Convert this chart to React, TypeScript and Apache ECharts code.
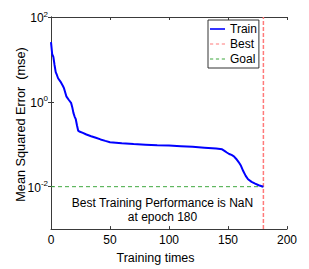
import React, { useEffect, useRef } from "react";
import * as echarts from "echarts";

const epochs = [0, 1, 2, 3, 4, 5, 6, 8, 10, 11, 13, 15, 17, 18, 19, 20, 21, 22, 23, 24, 27, 30, 34, 38, 42, 46, 50, 60, 70, 80, 90, 100, 110, 120, 130, 140, 145, 147, 149, 151, 153, 155, 157, 159, 161, 163, 165, 167, 170, 173, 176, 180];
const trainMse = [25.7, 13.3, 11.5, 7.4, 5.0, 4.3, 3.6, 3.0, 2.4, 2.1, 1.35, 1.12, 0.95, 0.75, 0.55, 0.45, 0.39, 0.28, 0.21, 0.2, 0.185, 0.17, 0.155, 0.142, 0.13, 0.12, 0.112, 0.105, 0.101, 0.098, 0.095, 0.093, 0.09, 0.087, 0.083, 0.079, 0.076, 0.07, 0.064, 0.059, 0.056, 0.052, 0.045, 0.038, 0.031, 0.023, 0.018, 0.015, 0.013, 0.0118, 0.0108, 0.01];
const bestEpoch = 180;
const goalValue = 0.01;
const yMin = 0.001;
const yMax = 100;
const xMin = 0;
const xMax = 200;
const xInterval = 50;
const yTickValues = [0.01, 1, 100];
const legendNames = ["Train", "Best", "Goal"];
const annotation = "Best Training Performance is NaN\nat epoch 180";
const xTitle = "Training times";
const yTitle = "Mean Squared Error  (mse)";

const FONT = "Liberation Sans, Arial, sans-serif";
const AXIS_COLOR = "#3a3a3a";
const TRAIN_COLOR = "#0000ff";
const BEST_COLOR = "#ff7a7a";
const GOAL_COLOR = "#3fa83f";

// legend icons: a 15x12 box (corner points keep the aspect), a solid bar or three dashes
const ICON_SOLID = "path://M0,0L0,0M15,12L15,12M0,5.2h15v1.6h-15z";
const ICON_DASH = "path://M0,0L0,0M15,12L15,12M0,5.4h3.2v1.2h-3.2zM5.9,5.4h3.2v1.2h-3.2zM11.8,5.4h3.2v1.2h-3.2z";

export default function App() {
  const ref = useRef<HTMLDivElement>(null);
  useEffect(() => {
    if (!ref.current) return;
    const chart = echarts.init(ref.current, undefined, { renderer: "svg" });
    const trainData = epochs.map((e, i) => [e, trainMse[i]]);
    const axisLineStyle = { show: true, lineStyle: { color: AXIS_COLOR, width: 1 } };
    const legendIcons = [ICON_SOLID, ICON_DASH, ICON_DASH];
    chart.setOption({
      animation: false,
      backgroundColor: "#ffffff",
      grid: { left: 51, top: 17, right: 22, bottom: 36, containLabel: false },
      legend: {
        data: legendNames.map((n, i) => ({ name: n, icon: legendIcons[i] })),
        orient: "vertical",
        left: 208,
        top: 20,
        backgroundColor: "#ffffff",
        borderColor: "#333333",
        borderWidth: 1,
        borderRadius: 0,
        padding: [3, 2, 3, 2],
        itemGap: 3,
        itemWidth: 15,
        itemHeight: 12,
        textStyle: { fontSize: 12, fontFamily: FONT, color: "#000000" },
      },
      xAxis: [
        {
          type: "value",
          position: "bottom",
          min: xMin,
          max: xMax,
          interval: xInterval,
          axisLine: axisLineStyle,
          axisTick: { show: true, inside: true, length: 3, lineStyle: { color: AXIS_COLOR } },
          axisLabel: { fontSize: 12, fontFamily: FONT, color: "#000000", margin: 5 },
          splitLine: { show: false },
          name: xTitle,
          nameLocation: "middle",
          nameGap: 17,
          nameTextStyle: { fontSize: 12.5, fontFamily: FONT, color: "#000000", padding: [0, 27, 0, 0] },
        },
        {
          type: "value",
          position: "top",
          min: xMin,
          max: xMax,
          interval: xInterval,
          axisLine: axisLineStyle,
          axisTick: { show: true, inside: true, length: 3, lineStyle: { color: AXIS_COLOR } },
          axisLabel: { show: false },
          splitLine: { show: false },
        },
      ],
      yAxis: [
        {
          type: "log",
          logBase: 10,
          position: "left",
          min: yMin,
          max: yMax,
          axisLine: axisLineStyle,
          axisTick: { show: true, inside: true, length: 3, customValues: yTickValues, lineStyle: { color: AXIS_COLOR } },
          minorTick: { show: false },
          axisLabel: {
            customValues: yTickValues,
            margin: 3,
            formatter: (v: number) => {
              const e = Math.round(Math.log10(v));
              return "{b|10}{s|" + e + "}";
            },
            rich: {
              b: { fontSize: 12, fontFamily: FONT, color: "#000000", lineHeight: 14, verticalAlign: "bottom" },
              s: { fontSize: 8, fontFamily: FONT, color: "#000000", lineHeight: 8, verticalAlign: "top" },
            },
          },
          splitLine: { show: false },
        },
        {
          type: "log",
          logBase: 10,
          position: "right",
          min: yMin,
          max: yMax,
          axisLine: axisLineStyle,
          axisTick: { show: true, inside: true, length: 3, customValues: yTickValues, lineStyle: { color: AXIS_COLOR } },
          minorTick: { show: false },
          axisLabel: { show: false },
          splitLine: { show: false },
        },
      ],
      graphic: [
        {
          type: "text",
          x: 21,
          y: 124.5,
          rotation: Math.PI / 2,
          style: {
            text: yTitle,
            textAlign: "center",
            textVerticalAlign: "middle",
            fontSize: 12.7,
            fontFamily: FONT,
            fill: "#000000",
          },
        },
        {
          type: "text",
          x: 162.5,
          y: 196,
          z: 100,
          style: {
            text: annotation,
            textAlign: "center",
            textVerticalAlign: "top",
            fontSize: 12,
            lineHeight: 14,
            fontFamily: FONT,
            fill: "#000000",
          },
        },
      ],
      series: [
        {
          name: "Goal",
          type: "line",
          xAxisIndex: 0,
          yAxisIndex: 0,
          data: [[xMin, goalValue], [bestEpoch, goalValue]],
          symbol: "none",
          lineStyle: { color: GOAL_COLOR, width: 1, type: [4, 3] },
          itemStyle: { color: GOAL_COLOR },
        },
        {
          name: "Best",
          type: "line",
          xAxisIndex: 0,
          yAxisIndex: 0,
          data: [[bestEpoch, yMin], [bestEpoch, yMax]],
          symbol: "none",
          lineStyle: { color: BEST_COLOR, width: 1.5, type: [4, 2] },
          itemStyle: { color: BEST_COLOR },
        },
        {
          name: "Train",
          type: "line",
          xAxisIndex: 0,
          yAxisIndex: 0,
          data: trainData,
          symbol: "none",
          smooth: false,
          lineStyle: { color: TRAIN_COLOR, width: 2 },
          itemStyle: { color: TRAIN_COLOR },
          z: 5,
        },
      ],
    });
    return () => chart.dispose();
  }, []);
  return (
    <div
      ref={ref}
      style={{ position: "fixed", left: 0, top: 0, width: 309, height: 269, background: "#ffffff" }}
    />
  );
}
